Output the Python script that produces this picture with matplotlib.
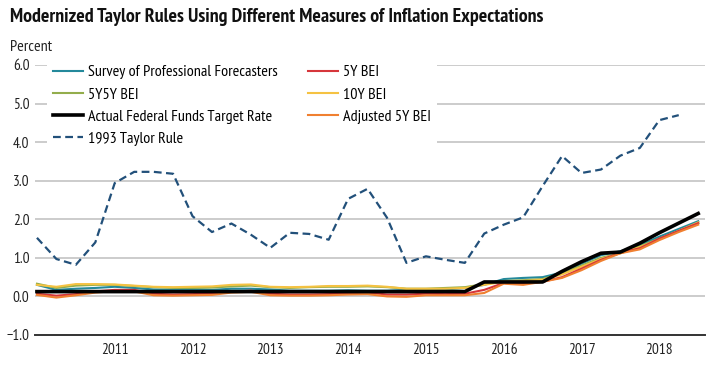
import matplotlib
matplotlib.use("Agg")
import matplotlib.pyplot as plt

plt.rcParams["font.family"] = ["PT Sans Narrow", "DejaVu Sans"]

# quarterly, 2010Q1 .. 2018Q3
years = ["2011", "2012", "2013", "2014", "2015", "2016", "2017", "2018"]
year_q1_index = [4, 8, 12, 16, 20, 24, 28, 32]

spf = [0.30, 0.17, 0.20, 0.22, 0.25, 0.22, 0.18, 0.17, 0.18, 0.17, 0.20, 0.20,
       0.18, 0.15, 0.15, 0.15, 0.16, 0.15, 0.15, 0.17, 0.18, 0.18, 0.22, 0.30,
       0.45, 0.48, 0.50, 0.62, 0.85, 1.07, 1.17, 1.33, 1.55, 1.75, 1.95]
bei_5y = [0.07, 0.02, 0.06, 0.13, 0.17, 0.17, 0.07, 0.05, 0.06, 0.08, 0.12, 0.15,
          0.07, 0.05, 0.05, 0.06, 0.08, 0.10, 0.05, 0.05, 0.07, 0.06, 0.07, 0.17,
          0.35, 0.33, 0.38, 0.50, 0.72, 0.95, 1.13, 1.25, 1.50, 1.70, 1.90]
bei_5y5y = [0.33, 0.22, 0.28, 0.30, 0.30, 0.27, 0.24, 0.22, 0.22, 0.23, 0.26, 0.28,
            0.24, 0.22, 0.24, 0.25, 0.25, 0.26, 0.24, 0.20, 0.20, 0.22, 0.24, 0.32,
            0.40, 0.42, 0.45, 0.60, 0.80, 1.00, 1.12, 1.30, 1.50, 1.70, 1.90]
bei_10y = [0.30, 0.25, 0.32, 0.32, 0.31, 0.28, 0.25, 0.24, 0.25, 0.26, 0.30, 0.31,
           0.25, 0.24, 0.25, 0.27, 0.27, 0.28, 0.25, 0.20, 0.20, 0.20, 0.22, 0.30,
           0.38, 0.40, 0.43, 0.57, 0.77, 0.97, 1.12, 1.28, 1.48, 1.70, 1.92]
fed_funds = [0.125] * 23 + [0.375, 0.375, 0.375, 0.375, 0.65, 0.90, 1.12, 1.15,
                            1.38, 1.65, 1.90, 2.15]
adj_5y = [0.04, -0.03, 0.03, 0.10, 0.14, 0.13, 0.03, 0.02, 0.03, 0.04, 0.10, 0.12,
          0.03, 0.02, 0.02, 0.03, 0.05, 0.06, 0.00, -0.01, 0.03, 0.03, 0.03, 0.09,
          0.33, 0.30, 0.38, 0.48, 0.68, 0.92, 1.12, 1.22, 1.46, 1.67, 1.86]
# 2010Q1 .. 2018Q2
taylor_1993 = [1.52, 0.97, 0.82, 1.40, 2.94, 3.23, 3.23, 3.18, 2.08, 1.67, 1.89, 1.60,
               1.26, 1.65, 1.62, 1.47, 2.53, 2.79, 2.04, 0.87, 1.04, 0.95, 0.87, 1.63,
               1.86, 2.05, 2.86, 3.64, 3.20, 3.29, 3.65, 3.85, 4.57, 4.70]

q = list(range(len(spf)))
qt = list(range(len(taylor_1993)))

fig = plt.figure(figsize=(7.18, 3.66), dpi=100)
ax = fig.add_axes([35 / 718, 31 / 366, 670 / 718, 270 / 366])

h_spf, = ax.plot(q, spf, color="#24899b", lw=1.5, label="Survey of Professional Forecasters")
h_5y5y, = ax.plot(q, bei_5y5y, color="#93ad4c", lw=1.5, label="5Y5Y BEI")
h_10y, = ax.plot(q, bei_10y, color="#f5c242", lw=1.5, label="10Y BEI")
h_5y, = ax.plot(q, bei_5y, color="#d6363b", lw=1.5, label="5Y BEI")
h_adj, = ax.plot(q, adj_5y, color="#f08030", lw=1.5, label="Adjusted 5Y BEI")
h_ff, = ax.plot(q, fed_funds, color="black", lw=2.6, label="Actual Federal Funds Target Rate")
h_tr, = ax.plot(qt, taylor_1993, color="#22507a", lw=1.6, ls=(0, (3.5, 2)),
                label="1993 Taylor Rule")

ax.set_xlim(-0.1, 34.35)
ax.set_ylim(-1, 6)
ax.set_yticks(range(-1, 7))
ax.set_yticklabels(["\u22121.0"] + [f"{v:.1f}" for v in range(0, 7)])
ax.set_xticks(year_q1_index)
ax.set_xticklabels(years)
ax.tick_params(axis="both", length=0, labelsize=11, colors="#222222")
ax.tick_params(axis="y", pad=4)
ax.tick_params(axis="x", pad=6)
for v in range(0, 7):
    ax.axhline(v, color="#cccccc", lw=1.4, zorder=0)
for s in ["top", "right", "left"]:
    ax.spines[s].set_visible(False)
ax.spines["bottom"].set_color("#333333")
ax.spines["bottom"].set_linewidth(1.4)

handles = [h_spf, h_5y5y, h_ff, h_tr, h_5y, h_10y, h_adj]
leg = ax.legend(handles, [h.get_label() for h in handles],
                ncol=2, loc="upper left", bbox_to_anchor=(0.018, 1.02),
                frameon=True, facecolor="white", edgecolor="none", framealpha=1,
                fontsize=11.5, handlelength=1.9, handletextpad=0.3, columnspacing=1.9,
                labelspacing=0.5, borderpad=0.35, borderaxespad=0)
leg.get_frame().set_boxstyle("square", pad=0)

fig.text(10 / 718, 1 - 17 / 366, "Modernized Taylor Rules Using Different Measures of Inflation Expectations",
         fontsize=14.3, fontweight="bold", va="center", ha="left", color="#111111")
fig.text(10 / 718, 1 - 47 / 366, "Percent", fontsize=11.5, va="center", ha="left", color="#222222")

fig.savefig("out.png", dpi=100)
